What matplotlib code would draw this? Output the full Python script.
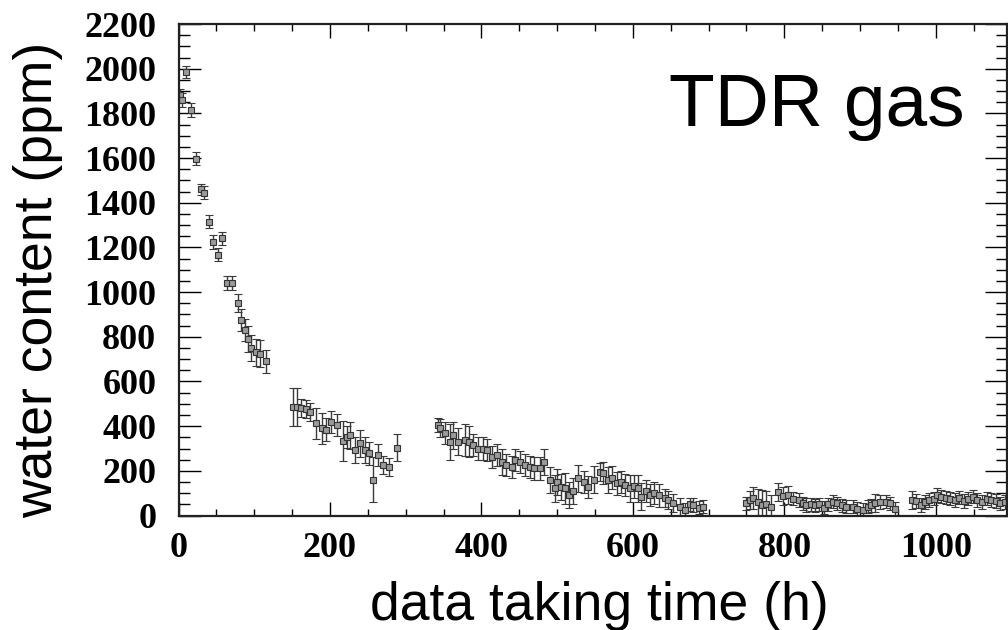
import matplotlib
matplotlib.use("Agg")
import matplotlib.pyplot as plt
from matplotlib.ticker import MultipleLocator
import numpy as np

# ---- data ----
t1 = [2, 5, 10, 16, 23, 30, 34, 40, 45, 52, 58, 64, 70, 78, 83, 88, 92, 96, 102, 108, 115]
w1 = [1880, 1860, 1985, 1815, 1598, 1460, 1445, 1315, 1225, 1168, 1240, 1040, 1040, 950,
      875, 830, 790, 750, 730, 725, 690]
e1 = [30, 30, 25, 30, 30, 25, 30, 30, 30, 30, 30, 30, 30, 40, 50, 50, 60, 60, 60, 60, 50]

t2 = [151, 156, 162, 169, 173, 181, 189, 195, 202, 209, 217, 222, 227, 233, 240, 246, 252,
      257, 264, 270, 278, 288]
w2 = [487, 487, 480, 475, 465, 412, 390, 385, 420, 405, 335, 352, 360, 293, 323, 293, 278,
      160, 270, 226, 218, 303]
e2 = [85, 85, 40, 40, 40, 70, 70, 50, 50, 50, 90, 50, 60, 60, 60, 60, 50, 100, 50, 40, 40, 60]

t3 = [342, 345, 352, 358, 363, 369, 378, 383, 389, 396, 402, 407, 414, 420, 427, 433, 440,
      444, 451, 457, 464, 470, 477, 483, 491, 497, 500, 505, 510, 515, 521, 528, 535, 541,
      548, 556, 561, 567, 573, 579, 584, 590, 596, 601, 607, 611, 617, 622, 628, 635, 642,
      647, 653, 662, 669, 675, 680, 687, 693]
w3 = [405, 390, 368, 330, 360, 330, 338, 330, 315, 300, 300, 293, 263, 270, 240, 226, 218,
      248, 240, 226, 218, 211, 211, 240, 159, 122, 150, 128, 122, 92, 110, 166, 150, 129,
      160, 196, 190, 159, 170, 144, 150, 137, 122, 130, 122, 85, 110, 92, 100, 90, 77,
      70, 55, 40, 25, 50, 47, 35, 40]
e3 = [30, 40, 50, 80, 60, 60, 70, 70, 50, 50, 50, 50, 50, 50, 60, 50, 50, 50, 50, 50, 50,
      50, 50, 60, 60, 60, 60, 60, 70, 60, 60, 60, 50, 50, 60, 40, 50, 60, 50, 50, 50, 50,
      60, 50, 60, 60, 50, 50, 50, 50, 40, 40, 40, 40, 30, 30, 30, 30, 30]

t4 = [750, 755, 759, 765, 770, 776, 782, 792, 798, 805, 812, 820, 825, 829, 835, 841, 846,
      852, 858, 864, 870, 876, 882, 890, 896, 904, 910, 915, 920, 926, 934, 940, 946, 968,
      974, 980, 986, 991, 997, 1001, 1007, 1013, 1019, 1025, 1031, 1037, 1043, 1049, 1055,
      1061, 1067, 1073, 1079, 1085, 1091]
w4 = [55, 70, 77, 60, 45, 50, 40, 107, 88, 92, 75, 70, 55, 48, 50, 45, 50, 35, 50, 62, 55,
      45, 40, 40, 30, 25, 40, 45, 55, 60, 62, 55, 30, 70, 65, 48, 60, 70, 75, 92, 85, 80,
      75, 70, 80, 65, 75, 85, 70, 60, 75, 70, 65, 55, 60]
e4 = [30, 40, 50, 60, 70, 60, 50, 40, 40, 40, 30, 30, 30, 30, 30, 30, 30, 30, 30, 30, 30,
      30, 30, 30, 30, 30, 30, 30, 40, 30, 30, 30, 30, 40, 30, 30, 30, 30, 30, 30, 30, 30,
      30, 30, 30, 30, 30, 30, 30, 30, 30, 30, 30, 30, 30]

x_ticks = [0, 200, 400, 600, 800, 1000]
y_ticks = list(range(0, 2201, 200))

# ---- figure ----
fig = plt.figure(figsize=(10.08, 6.3), dpi=100)
ax = fig.add_axes([0.1771, 0.1817, 0.8219, 0.7802])

for t, w, e in [(t1, w1, e1), (t2, w2, e2), (t3, w3, e3), (t4, w4, e4)]:
    ax.errorbar(t, w, yerr=e, fmt='s', ms=4.5, mfc='#9a9a9a', mec='#333333', mew=0.8,
                ecolor='#3a3a3a', elinewidth=1.0, capsize=3, capthick=1.0)

ax.set_xlim(0, 1094)
ax.set_ylim(0, 2200)
ax.set_xticks(x_ticks)
ax.set_yticks(y_ticks)
ax.xaxis.set_minor_locator(MultipleLocator(50))
ax.yaxis.set_minor_locator(MultipleLocator(50))

ax.tick_params(axis='x', which='major', direction='in', length=10, width=1.0,
               top=True, bottom=True, pad=12)
ax.tick_params(axis='x', which='minor', direction='in', length=5, width=1.0,
               top=True, bottom=True)
ax.tick_params(axis='y', which='major', direction='in', length=16, width=1.0,
               left=True, right=True, pad=16)
ax.tick_params(axis='y', which='minor', direction='in', length=8, width=1.0,
               left=True, right=True)

for lab in ax.get_xticklabels() + ax.get_yticklabels():
    lab.set_fontfamily('Liberation Serif')
    lab.set_fontweight('bold')
    lab.set_fontsize(26)

for sp in ax.spines.values():
    sp.set_linewidth(1.6)
    sp.set_color('#222222')

fig.text(0.595, 0.016, 'data taking time (h)', family='Liberation Sans', size=38.5,
         ha='center', va='baseline')
fig.text(0.038, 0.5556, 'water content (ppm)', family='Liberation Sans', size=38.5,
         ha='center', va='center', rotation=90)
ax.text(0.949, 0.7925, 'TDR gas', transform=ax.transAxes, family='Liberation Sans',
        size=54, ha='right', va='baseline')

fig.savefig('out.png', dpi=100)
